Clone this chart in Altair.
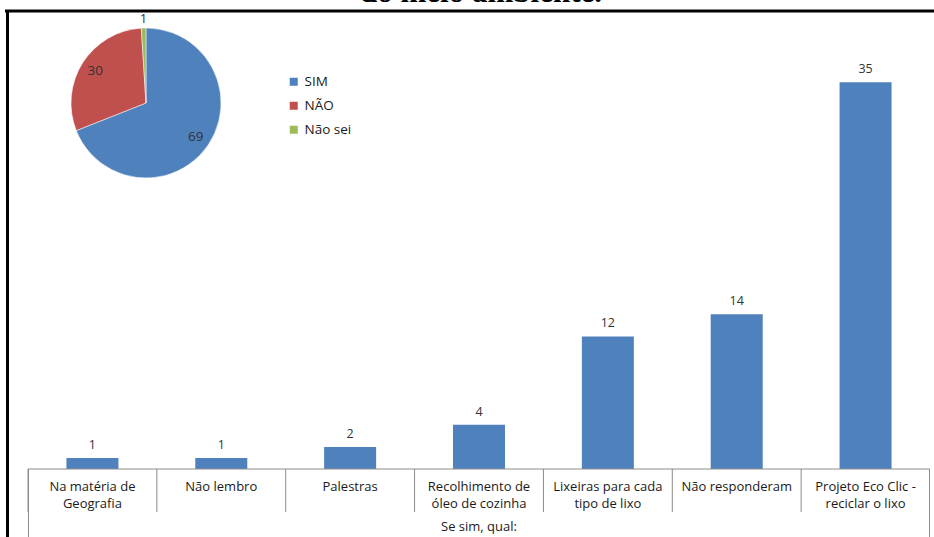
import altair as alt
import pandas as pd

# ---- data ----
categorias = [
    "Na matéria de\nGeografia",
    "Não lembro",
    "Palestras",
    "Recolhimento de\nóleo de cozinha",
    "Lixeiras para cada\ntipo de lixo",
    "Não responderam",
    "Projeto Eco Clic -\nreciclar o lixo",
]
valores = [1, 1, 2, 4, 12, 14, 35]

pie_categorias = ["SIM", "NÃO", "Não sei"]
pie_valores = [69, 30, 1]
pie_cores = ["#4F81BD", "#C0504D", "#9BBB59"]

titulo = "do meio ambiente."
eixo_titulo = "Se sim, qual:"

W, H = 902, 442
FONT = "Open Sans"

bars_df = pd.DataFrame({"cat": categorias, "v": valores})
pie_df = pd.DataFrame({"cat": pie_categorias, "v": pie_valores})

xenc = alt.X("cat:N", sort=None, axis=None,
             scale=alt.Scale(paddingInner=0, paddingOuter=0))

base = alt.Chart(bars_df)

bars = base.mark_bar(size=52, color="#4F81BD").encode(
    x=xenc,
    y=alt.Y("v:Q", axis=None, scale=alt.Scale(domain=[0, 40])),
)

bar_labels = base.mark_text(dy=-13, fontSize=12.5, font=FONT, color="#333333",
                            baseline="middle").encode(
    x=xenc, y=alt.Y("v:Q"), text="v:Q"
)

cat_labels = base.mark_text(lineBreak="\n", fontSize=13, font=FONT,
                            color="#1a1a1a", baseline="middle",
                            lineHeight=16.5).encode(
    x=xenc, y=alt.value(H + 18), text="cat:N"
)

cell_lines = base.mark_rule(color="#8c8c8c", strokeWidth=1).encode(
    x=alt.X("cat:N", sort=None, axis=None, bandPosition=0,
            scale=alt.Scale(paddingInner=0, paddingOuter=0)),
    y=alt.value(H), y2=alt.value(H + 43),
)

one = pd.DataFrame({"t": [eixo_titulo]})
frame_df = pd.DataFrame({"t": [titulo]})

base_line = alt.Chart(one).mark_rule(color="#8c8c8c").encode(
    x=alt.value(0), x2=alt.value(W), y=alt.value(H))
left_line = alt.Chart(one).mark_rule(color="#8c8c8c").encode(
    x=alt.value(0.5), y=alt.value(H), y2=alt.value(H + 70))
right_line = alt.Chart(one).mark_rule(color="#8c8c8c").encode(
    x=alt.value(W - 0.5), y=alt.value(H), y2=alt.value(H + 70))

axis_title = alt.Chart(one).mark_text(fontSize=13, font=FONT, color="#1a1a1a",
                                      baseline="middle").encode(
    x=alt.value(W / 2), y=alt.value(H + 58), text="t:N")

frame_top = alt.Chart(frame_df).mark_rule(color="black", strokeWidth=3).encode(
    x=alt.value(-23), x2=alt.value(W + 6), y=alt.value(-16))
frame_left = alt.Chart(frame_df).mark_rule(color="black", strokeWidth=3).encode(
    x=alt.value(-20.5), y=alt.value(-17), y2=alt.value(H + 72))

title = alt.Chart(frame_df).mark_text(font="Liberation Serif", fontWeight="bold",
                                      fontSize=31, color="black",
                                      baseline="alphabetic").encode(
    x=alt.value(453), y=alt.value(-25), text="t:N")

# ---- pie ----
pie_base = alt.Chart(pie_df).transform_window(idx="row_number()")
CX, CY, R = 118, 76, 75
color = alt.Color("cat:N", sort=pie_categorias,
                  scale=alt.Scale(domain=pie_categorias, range=pie_cores),
                  legend=alt.Legend(title=None, orient="none", legendX=259,
                                    legendY=48, symbolType="square",
                                    symbolSize=64, labelFont=FONT,
                                    labelFontSize=13.5, labelColor="#1a1a1a",
                                    rowPadding=9, symbolStrokeWidth=0))

arc = pie_base.mark_arc(outerRadius=R, stroke="white", strokeWidth=0.5).encode(
    theta=alt.Theta("v:Q", stack=True),
    color=color,
    order=alt.Order("idx:Q"),
    x=alt.value(CX), y=alt.value(CY),
)

pie_in = pie_base.mark_text(radius=60, fontSize=13.5, font=FONT,
                            color="#333333").encode(
    theta=alt.Theta("v:Q", stack=True),
    order=alt.Order("idx:Q"),
    x=alt.value(CX), y=alt.value(CY),
    text=alt.condition(alt.datum.v >= 5, "v:Q", alt.value("")),
)
pie_out = pie_base.mark_text(radius=84, fontSize=13, font=FONT,
                             color="#333333").encode(
    theta=alt.Theta("v:Q", stack=True),
    order=alt.Order("idx:Q"),
    x=alt.value(CX), y=alt.value(CY),
    text=alt.condition(alt.datum.v < 5, "v:Q", alt.value("")),
)

chart = alt.layer(
    bars, bar_labels, cell_lines, base_line, left_line, right_line,
    cat_labels, axis_title, frame_top, frame_left, title,
    arc, pie_in, pie_out,
).properties(
    width=W, height=H,
    background="white",
    padding={"left": 28, "top": 27, "right": 4, "bottom": 68},
    autosize=alt.AutoSizeParams(type="none"),
).configure_view(strokeWidth=0, stroke="transparent")

chart.save("out.html", embed_options={"renderer": "svg", "actions": False})
